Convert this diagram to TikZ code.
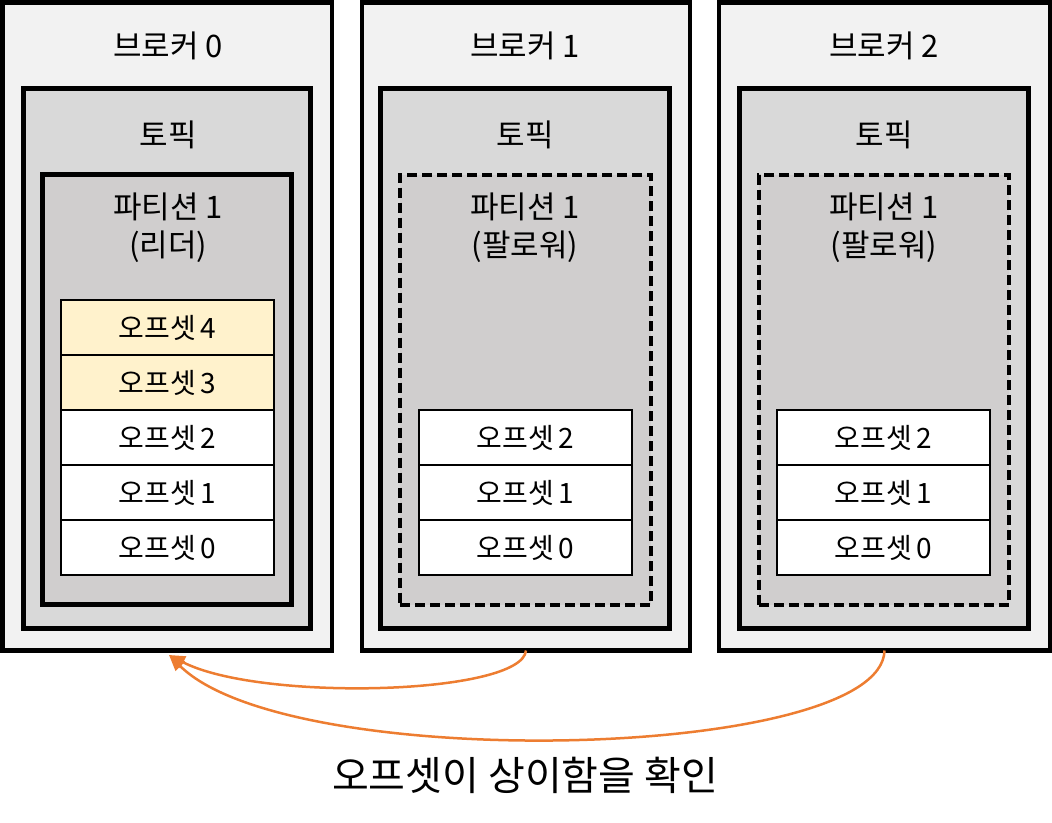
\documentclass[tikz,border=0pt]{standalone}
\usepackage{fontspec}
\setmainfont{Noto Sans CJK KR}
\usetikzlibrary{arrows.meta}
\definecolor{brokerfill}{HTML}{F2F2F2}
\definecolor{topicfill}{HTML}{D9D9D9}
\definecolor{partfill}{HTML}{D0CECE}
\definecolor{newfill}{HTML}{FFF2CC}
\definecolor{arrowc}{HTML}{ED7D31}
\tikzset{
  base/.style={draw, rectangle, anchor=north west, inner sep=0pt, outer sep=0pt},
  brokerbox/.style={base, line width=4.5pt, fill=brokerfill, minimum height=648pt},
  topicbox/.style={base, line width=4.5pt, fill=topicfill, minimum height=540pt},
  partbox/.style={base, line width=4.5pt, fill=partfill, minimum height=430pt},
  folbox/.style={partbox, line width=4pt, dash pattern=on 10pt off 5pt},
  offbox/.style={base, line width=1.5pt, fill=white, minimum width=213pt, minimum height=55pt, font=\fontsize{28}{32}\selectfont},
  newbox/.style={offbox, fill=newfill},
  biglabel/.style={font=\fontsize{31}{36}\selectfont, inner sep=0pt},
  parlabel/.style={font=\fontsize{31}{38}\selectfont, inner sep=0pt, align=center},
  conn/.style={draw=arrowc, line width=2.5pt, -{Triangle[length=16pt,width=13pt]}},
}
\begin{document}
\begin{tikzpicture}[x=1pt,y=-1pt]
\useasboundingbox (0,0) rectangle (1052,822);
% brokers
\node[brokerbox, minimum width=329.5pt] (b0) at (2.5,2.5) {};
\node[brokerbox, minimum width=328pt] (b1) at (362,2.5) {};
\node[brokerbox, minimum width=331pt] (b2) at (719,2.5) {};
\node[biglabel] (b0l) at (168,46) {브로커 0};
\node[biglabel] (b1l) at (525,46) {브로커 1};
\node[biglabel] (b2l) at (884,46) {브로커 2};
% topics
\node[topicbox, minimum width=287pt] (t0) at (23.5,88.5) {};
\node[topicbox, minimum width=289pt] (t1) at (380.5,88.5) {};
\node[topicbox, minimum width=289pt] (t2) at (739.5,88.5) {};
\node[biglabel] (t0l) at (168,135) {토픽};
\node[biglabel] (t1l) at (525,135) {토픽};
\node[biglabel] (t2l) at (884,135) {토픽};
% partitions
\node[partbox, minimum width=249pt] (p0) at (42.5,174.5) {};
\node[folbox, minimum width=251pt] (p1) at (400,174.5) {};
\node[folbox, minimum width=250pt] (p2) at (759,174.5) {};
\node[parlabel] (p0l) at (168,228) {파티션 1\\(리더)};
\node[parlabel] (p1l) at (525,228) {파티션 1\\(팔로워)};
\node[parlabel] (p2l) at (884,228) {파티션 1\\(팔로워)};
% offsets broker 0
\node[newbox] (o04) at (61,300) {오프셋\,4};
\node[newbox] (o03) at (61,355) {오프셋\,3};
\node[offbox] (o02) at (61,410) {오프셋\,2};
\node[offbox] (o01) at (61,465) {오프셋\,1};
\node[offbox] (o00) at (61,520) {오프셋\,0};
% offsets broker 1
\node[offbox] (o12) at (419,410) {오프셋\,2};
\node[offbox] (o11) at (419,465) {오프셋\,1};
\node[offbox] (o10) at (419,520) {오프셋\,0};
% offsets broker 2
\node[offbox] (o22) at (777,410) {오프셋\,2};
\node[offbox] (o21) at (777,465) {오프셋\,1};
\node[offbox] (o20) at (777,520) {오프셋\,0};
% arrows
\coordinate (tip) at (169,655);
\draw[conn] (b1.south) .. controls (522,695) and (260,702) .. (tip);
\draw[conn] (b2.south) .. controls (882,760) and (290,775) .. (tip);
\node[font=\fontsize{40}{46}\selectfont, inner sep=0pt] (cap) at (525,775) {오프셋이 상이함을 확인};
\end{tikzpicture}
\end{document}
